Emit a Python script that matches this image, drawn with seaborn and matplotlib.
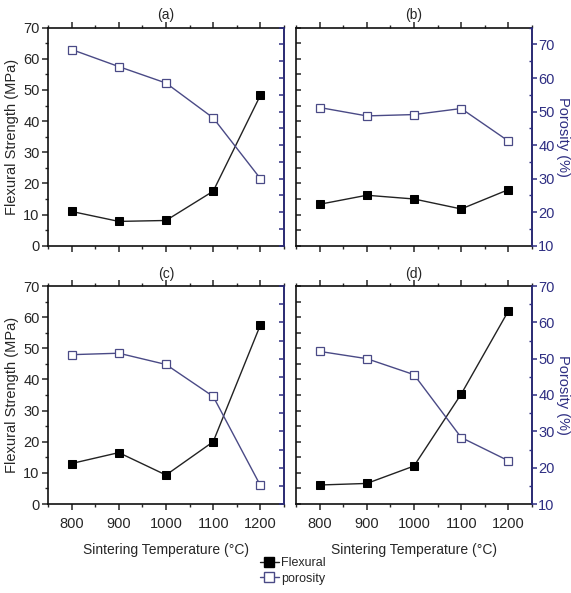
import matplotlib
matplotlib.use("Agg")
import matplotlib.pyplot as plt
import seaborn as sns
import pandas as pd
from matplotlib.ticker import MultipleLocator
from matplotlib.lines import Line2D

temps = [800, 900, 1000, 1100, 1200]
panel_labels = ["(a)", "(b)", "(c)", "(d)"]
flexural = {
    "(a)": [11.0, 7.8, 8.1, 17.5, 48.3],
    "(b)": [13.3, 16.2, 15.0, 11.8, 18.0],
    "(c)": [13.0, 16.5, 9.3, 20.0, 57.5],
    "(d)": [6.1, 6.6, 12.2, 35.3, 62.0],
}
porosity = {
    "(a)": [68.5, 63.4, 58.5, 48.1, 30.0],
    "(b)": [51.2, 48.7, 49.1, 50.9, 41.2],
    "(c)": [51.1, 51.5, 48.4, 39.6, 15.1],
    "(d)": [52.0, 50.0, 45.6, 28.3, 21.9],
}
xticks = [800, 900, 1000, 1100, 1200]

sns.set_style("ticks")
plt.rcParams['font.family'] = ['Liberation Sans', 'DejaVu Sans']

NAVY = "#2e2e82"
PLINE = "#4a4a86"

fig = plt.figure(figsize=(5.71, 5.93), dpi=100)
W, H = 571, 593
boxes = {
    "(a)": (48, 27.7, 284, 245.7),
    "(b)": (296, 27.7, 532, 245.7),
    "(c)": (48, 286, 284, 504),
    "(d)": (296, 286, 532, 504),
}

for lab in panel_labels:
    x0, y0, x1, y1 = boxes[lab]
    ax = fig.add_axes([x0 / W, 1 - y1 / H, (x1 - x0) / W, (y1 - y0) / H])
    df = pd.DataFrame({"T": temps, "F": flexural[lab], "P": porosity[lab]})
    sns.lineplot(data=df, x="T", y="F", ax=ax, color="#222222", marker="s",
                 markersize=5.5, markerfacecolor="black", markeredgecolor="black",
                 linewidth=1.0)
    ax.set_xlim(750, 1250)
    ax.set_ylim(0, 70)
    ax.set_xticks(xticks)
    ax.xaxis.set_minor_locator(MultipleLocator(50))
    ax.yaxis.set_major_locator(MultipleLocator(10))
    ax.yaxis.set_minor_locator(MultipleLocator(5))
    ax.set_xlabel("")
    ax.set_ylabel("")
    top = lab in ("(a)", "(b)")
    leftp = lab in ("(a)", "(c)")
    ax.tick_params(axis="x", which="major", direction="out", length=4, width=1.1,
                   labelsize=10.5, labelbottom=not top, top=True, pad=5)
    ax.tick_params(axis="x", which="minor", direction="out", length=2.5, width=1.0, top=True)
    if leftp:
        ax.tick_params(axis="y", which="major", direction="out", length=4, width=1.1,
                       labelsize=10.5, pad=2)
        ax.tick_params(axis="y", which="minor", direction="out", length=2.5, width=1.0)
        ax.set_ylabel("Flexural Strength (MPa)", fontsize=10.5, labelpad=3)
    else:
        ax.tick_params(axis="y", which="both", direction="in", length=3.5, width=1.1,
                       labelleft=False)
    for s in ax.spines.values():
        s.set_linewidth(1.2)
        s.set_color("#111111")
    ax.set_title(lab, fontsize=10, pad=6)
    if not top:
        ax.set_xlabel("Sintering Temperature (\u00b0C)", fontsize=10, labelpad=9)

    ax2 = ax.twinx()
    sns.lineplot(data=df, x="T", y="P", ax=ax2, color=PLINE, marker="s",
                 markersize=5.5, markerfacecolor="white", markeredgecolor=PLINE,
                 markeredgewidth=0.9, linewidth=1.0)
    ax2.set_ylim(10, 75 if top else 70)
    ax2.set_yticks([10, 20, 30, 40, 50, 60, 70])
    ax2.yaxis.set_minor_locator(MultipleLocator(5))
    ax2.set_xlabel("")
    ax2.set_ylabel("")
    ax2.spines["right"].set_color(NAVY)
    ax2.spines["right"].set_linewidth(1.2)
    for k in ("left", "top", "bottom"):
        ax2.spines[k].set_visible(False)
    if leftp:
        ax2.tick_params(axis="y", which="both", direction="in", length=3.5, width=1.1,
                        colors=NAVY, labelright=False)
    else:
        ax2.tick_params(axis="y", which="major", direction="out", length=3.5, width=1.1,
                        colors=NAVY, labelsize=10.5, labelcolor=NAVY, pad=1)
        ax2.tick_params(axis="y", which="minor", direction="in", length=2.5, width=1.0,
                        colors=NAVY)
        ax2.set_ylabel("Porosity (%)", fontsize=10.5, color=NAVY, rotation=270,
                       labelpad=11)

handles = [
    Line2D([], [], color="#222222", marker="s", markersize=6.5, markerfacecolor="black",
           markeredgecolor="black", linewidth=1.0, label="Flexural"),
    Line2D([], [], color=PLINE, marker="s", markersize=6.5, markerfacecolor="white",
           markeredgecolor=PLINE, linewidth=1.0, label="porosity"),
]
fig.legend(handles=handles, loc="center", bbox_to_anchor=(293 / W, 1 - 571 / H),
           frameon=False, fontsize=9, handlelength=1.5, handletextpad=0.2,
           labelspacing=0.25, borderpad=0)

fig.savefig("out.png", dpi=100)
